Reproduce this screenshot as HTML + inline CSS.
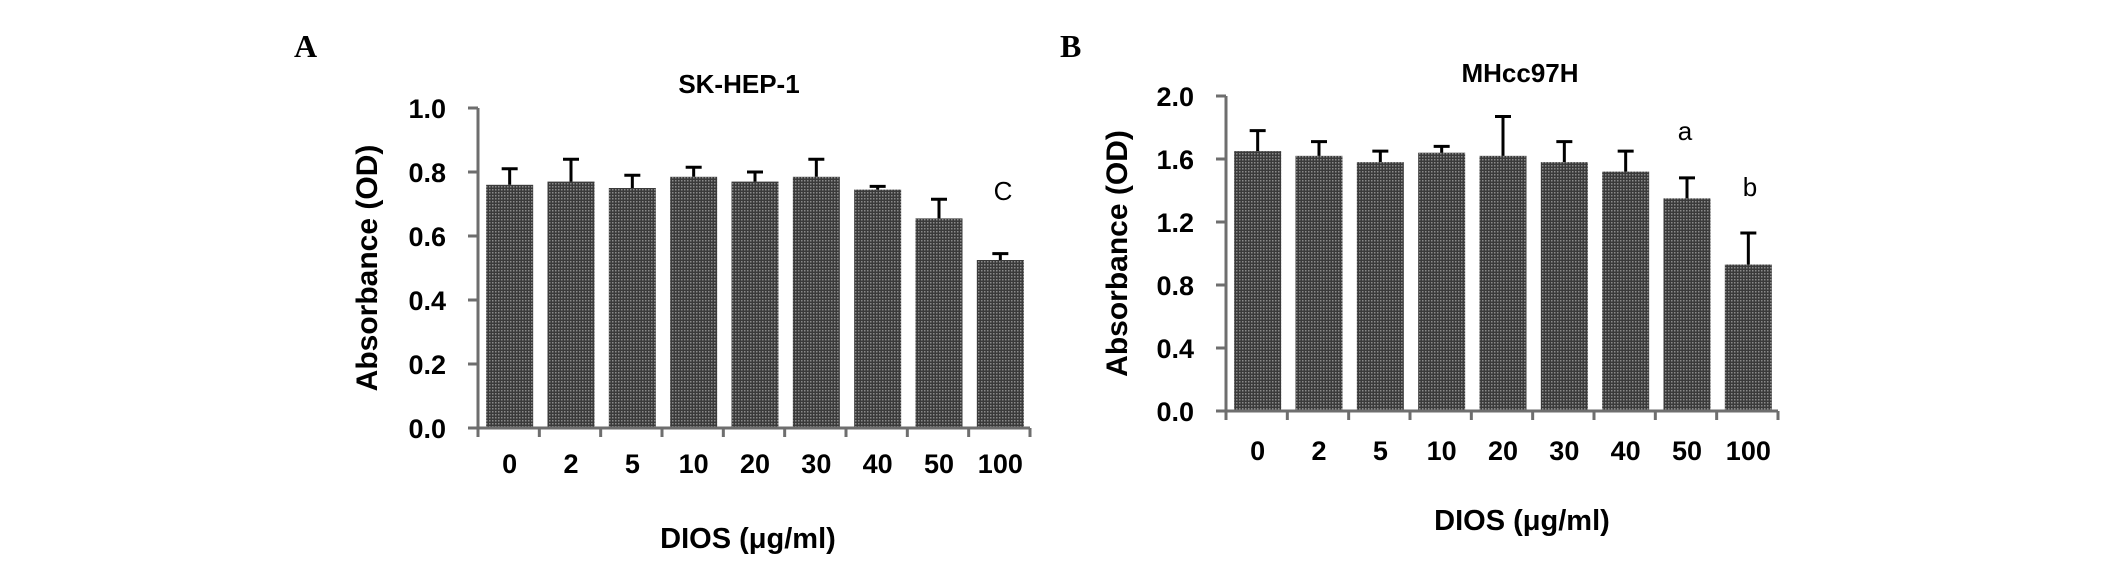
<!DOCTYPE html>
<html><head><meta charset="utf-8"><style>
html,body{margin:0;padding:0;background:#fff;width:2126px;height:561px;overflow:hidden}
svg{display:block;font-family:"Liberation Sans",Arial,sans-serif}
</style></head><body>
<svg id="c" width="2126" height="561">
<defs><pattern id="hatch" width="3" height="3" patternUnits="userSpaceOnUse"><rect width="3" height="3" fill="#3a3a3a"/><rect width="1.5" height="1.5" fill="#8a8a8a"/></pattern></defs>
</svg>
<script>
const categories = ["0","2","5","10","20","30","40","50","100"];
const valuesA = [0.76,0.77,0.75,0.785,0.77,0.785,0.745,0.655,0.525];
const errTopA = [0.81,0.84,0.79,0.815,0.80,0.84,0.755,0.715,0.545];
const ticksA = [0,0.2,0.4,0.6,0.8,1.0];
const valuesB = [1.65,1.62,1.58,1.64,1.62,1.58,1.52,1.35,0.93];
const errTopB = [1.78,1.71,1.65,1.68,1.87,1.71,1.65,1.48,1.13];
const ticksB = [0,0.4,0.8,1.2,1.6,2.0];
const NS="http://www.w3.org/2000/svg";
const svg=document.getElementById('c');
function el(tag,attrs,txt){const e=document.createElementNS(NS,tag);for(const k in attrs)e.setAttribute(k,attrs[k]);if(txt!==undefined)e.textContent=txt;svg.appendChild(e);return e;}
function panel(p){
  const y=v=>p.y0-(v/p.ymax)*(p.y0-p.y1);
  const cw=(p.x1-p.x0)/categories.length;
  const letter=el('text',{x:p.lx,y:57,'font-family':'"Liberation Serif",serif','font-weight':'bold','font-size':32},p.letter);
  
  
  const t=el('text',{x:p.tx,y:p.ty,'text-anchor':'middle','font-weight':'bold','font-size':26},p.title);
  
  
  p.vals.forEach((v,i)=>{
    const bx=p.x0+i*cw+(cw-47)/2+1;
    const r=el('rect',{x:bx,y:y(v),width:47,height:p.y0-y(v),fill:'url(#hatch)'});
    
    
    const cx=bx+23.5;
    const e=el('path',{d:`M${cx},${y(v)}V${y(p.err[i])}M${cx-8},${y(p.err[i])}H${cx+8}`,stroke:'#000','stroke-width':3,fill:'none'});
    
    
    const xl=el('text',{x:p.x0+(i+0.5)*cw+1,y:p.xly,'text-anchor':'middle','font-weight':'bold','font-size':27},categories[i]);
    
    
  });
  const ax=el('path',{d:`M${p.x0},${p.y1}V${p.y0}H${p.x1}`,stroke:'#6e6e6e','stroke-width':3,fill:'none'});
  
  
  for(let i=0;i<=categories.length;i++){
    const tk=el('line',{x1:p.x0+i*cw,x2:p.x0+i*cw,y1:p.y0,y2:p.y0+9,stroke:'#6e6e6e','stroke-width':3});
    
    
  }
  p.ticks.forEach(v=>{
    const tk=el('line',{x1:p.x0-10,x2:p.x0,y1:y(v),y2:y(v),stroke:'#6e6e6e','stroke-width':3});
    
    
    const tl=el('text',{x:p.x0-32,y:y(v)+10,'text-anchor':'end','font-weight':'bold','font-size':27},v.toFixed(1));
    
    
  });
  const yt=el('text',{x:0,y:0,transform:`translate(${p.ytx},${(p.y0+p.y1)/2}) rotate(-90)`,'text-anchor':'middle','font-weight':'bold','font-size':30},'Absorbance (OD)');
  
  
  const xt=el('text',{x:p.xtx,y:p.xty,'text-anchor':'middle','font-weight':'bold','font-size':29},'DIOS (μg/ml)');
  
  
  p.notes.forEach(n=>{
    const a=el('text',{x:n[1],y:n[2],'text-anchor':'middle','font-size':26},n[0]);
    
    
  });
}
panel({key:'a',letter:'A',lx:294,title:'SK-HEP-1',tx:739,ty:93,x0:478,x1:1030,y0:428,y1:108,ymax:1.0,vals:valuesA,err:errTopA,ticks:ticksA,xly:473,ytx:377,xtx:748,xty:548,notes:[['C',1003,200]]});
panel({key:'b',letter:'B',lx:1060,title:'MHcc97H',tx:1520,ty:82,x0:1226,x1:1778,y0:411,y1:96,ymax:2.0,vals:valuesB,err:errTopB,ticks:ticksB,xly:460,ytx:1127,xtx:1522,xty:530,notes:[['a',1685,140],['b',1750,196]]});
</script>
</body></html>
